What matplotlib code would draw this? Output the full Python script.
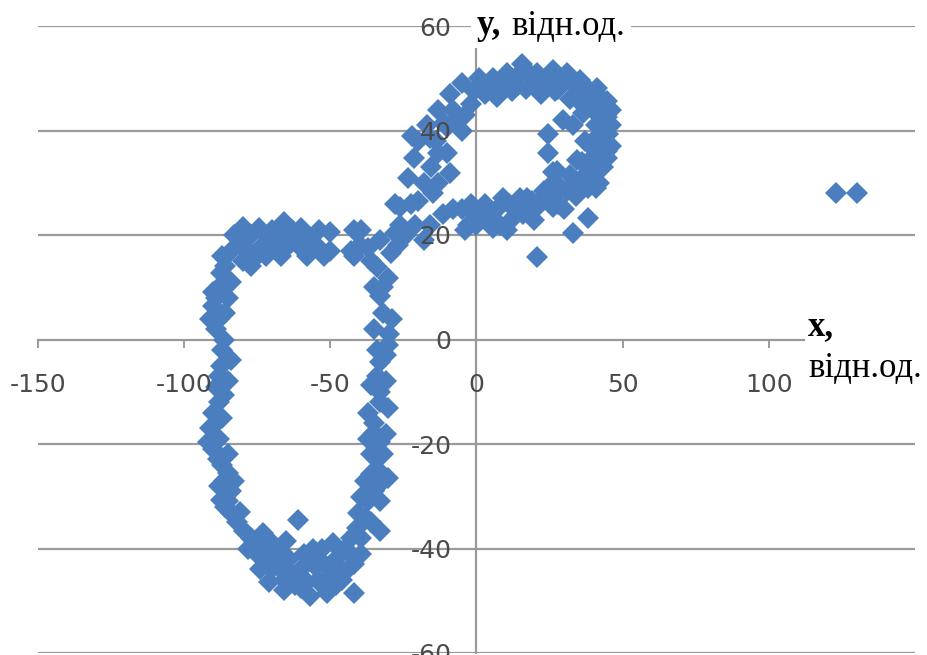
import matplotlib
matplotlib.use("Agg")
import matplotlib.pyplot as plt

# ---- data: trajectory points (x, y), relative units ----
loop_left_side = [(-83, 20), (-80, 21.5), (-84, 17), (-80, 15), (-86, 14), (-87.5, 12.8),
                  (-88, 10), (-90, 9), (-89, 8), (-90, 6.5), (-91, 4), (-88, 4), (-89, 2),
                  (-86.5, 0), (-87, -2), (-87.5, -5), (-88, -7), (-89, -9), (-86.4, -10.7),
                  (-88, -12), (-90, -14), (-89, -16), (-91, -17), (-92, -19.7), (-90, -21),
                  (-88.5, -22.8), (-87, -24), (-85, -25.5), (-86.4, -27), (-88, -28),
                  (-84, -29), (-87.5, -30.8), (-86, -32), (-84, -33.3), (-81, -33),
                  (-82, -35), (-79.6, -36.6), (-77, -38), (-76, -39), (-73, -40.5),
                  (-71.4, -41.7), (-69, -43), (-67, -44), (-66, -46), (-66, -48),
                  (-85, 8), (-86, 5), (-84, -4), (-85, -8), (-87, -15), (-88, -19),
                  (-85, -22), (-83, -27), (-85, -31), (-84, 11), (-87, 16)]

loop_top = [(-77, 20), (-74.5, 21.4), (-71, 19), (-70, 21), (-66, 22.4), (-63, 21),
            (-60, 21.4), (-57, 19.5), (-67, 16), (-64, 18), (-55, 18), (-52, 16),
            (-50, 20.5), (-78, 17), (-75, 16), (-77, 14), (-68, 20), (-73, 18),
            (-81, 18), (-72, 16), (-69, 18), (-61, 18), (-58, 16), (-54, 21), (-50, 17)]

loop_right_side = [(-42, 20.9), (-39.6, 21), (-43, 17), (-42, 16), (-37, 17.6), (-36, 15),
                   (-33, 19), (-34, 13.8), (-30.4, 11.7), (-32, 10), (-33, 8.4), (-32, 5),
                   (-29, 4), (-30, 1), (-30.4, -1), (-31, -3), (-33, -4.4), (-34, -7),
                   (-36, -8.8), (-33, -10), (-33, -12), (-30.4, -13.2), (-35, -16),
                   (-35, -17.8), (-33, -19.7), (-31, -18), (-36, -22), (-34, -24.7),
                   (-30.4, -26.6), (-32, -27), (-36, -25.7), (-35, -29), (-39.6, -30.2),
                   (-40.7, -33.3), (-33, -36.6), (-36, -35), (-39.6, -38), (-39.6, -41),
                   (-42, -43), (-34, -2), (-35, 2), (-35, 10), (-31, -8), (-37, -14),
                   (-32, -22), (-37, -19), (-33, -31), (-38, -27), (-40, 18)]

loop_bottom = [(-73, -37), (-70, -39), (-68, -40.4), (-64, -42), (-63, -45), (-61, -34.6),
               (-60, -44), (-59, -41), (-58, -46.5), (-56, -43), (-54.3, -46), (-53, -40),
               (-52, -43), (-50, -45.5), (-49, -39), (-48, -42), (-46, -46), (-45, -40),
               (-44, -44), (-42, -48.6), (-43, -38), (-41, -36), (-53, -47), (-62, -47),
               (-56, -40), (-75, -41), (-70, -44), (-48, -47), (-78, -40), (-74, -44),
               (-67, -41), (-65, -38.5), (-57, -49), (-51, -48.5), (-47, -44), (-44, -40.5),
               (-38, -34), (-37, -31), (-71, -46.5), (-60, -47.5), (-54, -43)]

bridge = [(-28, 20.3), (-26, 25.3), (-26, 22), (-22.5, 26), (-20, 26.6), (-23.6, 31),
          (-18, 19), (-29.4, 16.5), (-21.5, 34.8), (-13.3, 35.6), (-15.7, 33),
          (-10, 35.6), (-8.9, 31.8), (-11.3, 24), (-8, 25), (-15, 28),
          (-18, 30), (-28, 26), (-27, 18), (-13, 30), (-5, 25), (-3, 22), (-16, 22),
          (-21, 22), (-24, 20)]

ring_top = [(-5, 49), (-1, 47.6), (2, 49), (5.8, 50), (8, 48), (10.6, 51), (13, 50),
            (15.7, 52.8), (18, 51), (20.8, 51), (23, 49.5), (26.3, 51.5), (29, 50), (31, 51),
            (33, 49), (35.5, 49.6), (38, 48), (41.3, 48.2), (43, 46), (44.8, 45.7),
            (-4, 43), (3, 47), (7, 46.5), (12, 47.5), (17, 48), (22, 47), (27, 47.5),
            (32, 46), (36, 45), (40, 44), (-7, 42), (-10, 40.6), (-5, 40), (-14, 38),
            (1, 50), (5, 48), (9, 49), (14, 48.5), (19, 49), (24, 50), (28, 48), (34, 47),
            (39, 46), (42, 44), (-8, 44), (-2, 45), (-20, 38), (-17, 41), (-13, 44),
            (-9, 47), (-16, 38.5), (-11, 41.5), (-22, 39)]

ring_right = [(44, 43), (44.8, 42.5), (43, 40), (45, 39.4), (44, 37.5), (44.8, 36),
              (43, 34.5), (43.4, 33), (41.3, 32.3), (44.8, 34.8), (41, 41), (40, 38),
              (40, 35), (38, 33), (42, 30), (42, 38), (41, 36), (46, 41), (46, 37),
              (46, 44), (42, 35)]

ring_bottom = [(38, 29), (36.6, 29.9), (34, 27.5), (31, 28.5), (28, 26), (26.3, 25.3),
               (23, 27), (20, 25), (17.4, 27), (14, 25.3), (12, 23), (9, 27), (7, 25),
               (4, 23), (2.4, 24.7), (0, 22), (-2, 26), (5.8, 21.4), (10.6, 20.9),
               (19.5, 22.8), (33, 20.3), (38, 23.3), (-4, 21), (23, 28.5), (30, 25), (15, 27),
               (20.8, 15.7), (36, 31), (33, 30), (29, 29), (25, 28), (19, 26.5), (16, 24),
               (11, 26), (8, 22), (3, 26), (-1, 24), (26, 30), (39, 31), (41, 29)]

ring_inner = [(24.3, 39.4), (24.3, 35.6), (26, 32), (29.7, 42), (32, 31.5), (36.6, 43.3),
              (37, 38), (36, 34), (34.5, 34.3), (27.7, 32.3), (33, 41)]

far_points = [(123, 28), (130, 28)]

x_ticks = [-150, -100, -50, 0, 50, 100]
y_ticks = [-60, -40, -20, 0, 20, 40, 60]

points = (loop_left_side + loop_top + loop_right_side + loop_bottom + bridge +
          ring_top + ring_right + ring_bottom + ring_inner + far_points)
xs = [p[0] for p in points]
ys = [p[1] for p in points]

# ---- figure ----
fig = plt.figure(figsize=(9.28, 6.55), dpi=100)
ax = fig.add_axes([38 / 928, 2 / 655, 877 / 928, 627 / 655])
ax.set_xlim(-150, 150)
ax.set_ylim(-60, 60)

grid_c = "#9a9a9a"
for yv in y_ticks:
    if yv != 0:
        ax.axhline(yv, color=grid_c, lw=1.6, zorder=0.5)

ax.plot(xs, ys, linestyle="none", marker="D", ms=11.3, mew=0,
        color="#4A7EBF", zorder=2)

for side in ("top", "right"):
    ax.spines[side].set_visible(False)
ax.spines["left"].set_position(("data", 0))
ax.spines["bottom"].set_position(("data", 0))
for side in ("left", "bottom"):
    ax.spines[side].set_color(grid_c)
    ax.spines[side].set_linewidth(1.6)
    ax.spines[side].set_zorder(1)
ax.spines["bottom"].set_bounds(-150, 112)

ax.set_xticks(x_ticks)
ax.set_yticks(y_ticks)
ax.set_xticklabels([str(v) for v in x_ticks])
ax.set_yticklabels([str(v) for v in y_ticks])
ax.tick_params(axis="x", direction="out", length=6, width=1.4, color=grid_c,
               pad=18, labelsize=18, labelcolor="#4a4a4a")
ax.tick_params(axis="y", length=0, pad=18, labelsize=18, labelcolor="#4a4a4a")
ax.xaxis.set_zorder(3)
ax.yaxis.set_zorder(3)

serif = ["Liberation Serif", "DejaVu Serif"]
white = dict(facecolor="white", edgecolor="none", pad=4)
ax.annotate("y,", xy=(0, 60), xytext=(0, 0), textcoords="offset points",
            ha="left", va="center", fontsize=25, fontweight="bold",
            family=serif, color="black", bbox=white, zorder=4)
ax.annotate("відн.од.", xy=(0, 60), xytext=(25, 0), textcoords="offset points",
            ha="left", va="center", fontsize=25, family=serif, color="black",
            bbox=white, zorder=4)
ax.annotate("x,", xy=(113.5, 2.5), ha="left", va="center", fontsize=25,
            fontweight="bold", family=serif, color="black", zorder=4)
ax.annotate("відн.од.", xy=(113.5, -5.5), ha="left", va="center", fontsize=25,
            family=serif, color="black", zorder=4)

fig.savefig("out.png", dpi=100)
